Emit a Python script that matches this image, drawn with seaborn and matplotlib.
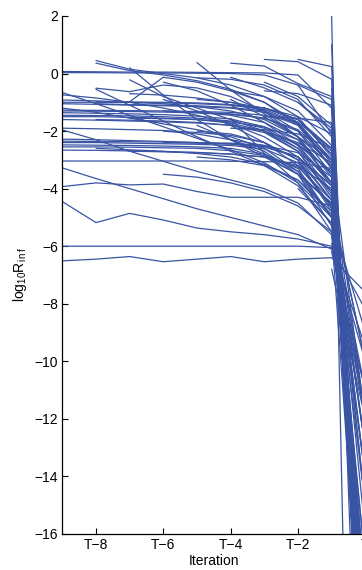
import matplotlib
matplotlib.use("Agg")
import numpy as np
import pandas as pd
import matplotlib.pyplot as plt
import seaborn as sns

# log10 R_inf per run, grouped by the iteration where the run's record starts.
# Every run ends at the final iteration T (x = 0).
from_t9 = [
    [0.07, 0.06, 0.05, 0.05, 0.04, 0.03, 0.02, -0.05, -1.2, -26],
    [0.03, 0.03, 0.02, 0.02, 0.01, 0.0, -0.05, -0.4, -2.1, -21],
    [-0.66, -1.05, -1.45, -1.85, -2.25, -2.65, -3.1, -3.8, -5.5, -22],
    [-0.74, -0.85, -1.0, -1.2, -1.45, -1.75, -2.2, -2.9, -4.4, -19],
    [-0.92, -0.95, -1.0, -1.05, -1.15, -1.3, -1.6, -2.2, -3.6, -23],
    [-1.0, -1.0, -1.0, -1.02, -1.05, -1.1, -1.25, -1.7, -3.3, -22],
    [-1.05, -1.07, -1.1, -1.12, -1.15, -1.2, -1.35, -1.8, -3.1, -24],
    [-1.2, -1.35, -1.55, -1.75, -1.95, -2.2, -2.6, -3.4, -5.0, -17],
    [-1.27, -1.28, -1.29, -1.3, -1.32, -1.35, -1.45, -1.7, -2.6, -22],
    [-1.3, -1.31, -1.32, -1.34, -1.37, -1.42, -1.55, -1.95, -3.0, -20],
    [-1.36, -1.38, -1.4, -1.43, -1.48, -1.58, -1.85, -2.5, -3.9, -21],
    [-1.45, -1.46, -1.47, -1.5, -1.55, -1.65, -1.9, -2.6, -4.1, -20],
    [-1.5, -1.5, -1.52, -1.55, -1.6, -1.72, -2.0, -2.7, -4.3, -16],
    [-1.6, -1.62, -1.65, -1.68, -1.72, -1.8, -2.0, -2.45, -3.4, -22],
    [-1.9, -1.92, -1.95, -1.98, -2.05, -2.15, -2.4, -3.0, -4.7, -14],
    [-1.96, -2.3, -2.7, -3.05, -3.4, -3.7, -4.0, -4.5, -5.6, -12],
    [-2.28, -2.3, -2.33, -2.36, -2.4, -2.45, -2.55, -2.9, -4.1, -23],
    [-2.35, -2.36, -2.37, -2.38, -2.4, -2.42, -2.5, -2.75, -3.6, -21],
    [-2.4, -2.4, -2.42, -2.44, -2.46, -2.5, -2.62, -3.1, -4.6, -19],
    [-2.48, -2.49, -2.5, -2.52, -2.55, -2.6, -2.8, -3.3, -5.0, -18],
    [-2.55, -2.55, -2.56, -2.58, -2.6, -2.68, -2.85, -3.5, -5.3, -17],
    [-2.66, -2.67, -2.69, -2.71, -2.74, -2.8, -2.9, -3.25, -4.4, -20],
    [-3.04, -3.04, -3.04, -3.04, -3.04, -3.05, -3.06, -3.1, -3.3, -24],
    [-3.28, -3.65, -4.0, -4.35, -4.7, -5.0, -5.3, -5.6, -6.1, -11],
    [-3.93, -3.8, -3.87, -3.84, -4.1, -4.3, -4.3, -4.3, -4.6, -10],
    [-4.45, -5.18, -4.86, -5.09, -5.37, -5.5, -5.6, -5.75, -6.0, -9.5],
    [-6.0, -6.0, -6.0, -6.0, -6.0, -6.0, -6.0, -6.0, -6.05, -8.2],
    [-6.51, -6.45, -6.36, -6.54, -6.45, -6.36, -6.54, -6.45, -6.4, -7.6],
]
from_t8 = [
    [0.45, 0.15, 0.0, -0.15, -0.4, -0.8, -1.5, -2.9, -24],
    [0.36, 0.1, -0.05, -0.25, -0.55, -1.0, -1.8, -3.3, -21],
    [-0.51, -0.63, -0.4, -0.5, -0.8, -1.3, -2.2, -3.8, -23],
    [-0.55, -1.1, -1.65, -2.2, -2.7, -3.2, -3.9, -5.2, -12],
    [-0.98, -0.99, -1.0, -1.02, -1.08, -1.2, -1.6, -2.8, -22],
    [-1.05, -1.08, -1.1, -1.12, -1.18, -1.3, -1.75, -3.0, -21],
    [-1.6, -1.62, -1.65, -1.7, -1.8, -2.05, -2.7, -4.2, -18],
    [-2.6, -2.65, -2.7, -2.78, -2.9, -3.15, -3.7, -4.9, -20],
]
from_t7 = [
    [0.2, -0.75, -1.6, -2.3, -2.9, -3.5, -4.5, -19],
    [-0.22, -0.8, -1.2, -1.6, -2.0, -2.6, -3.8, -22],
    [-0.98, -0.13, -0.3, -0.6, -1.0, -1.7, -3.0, -23],
    [-0.7, -0.75, -0.85, -1.0, -1.3, -2.0, -3.5, -18],
    [-1.55, -1.57, -1.6, -1.68, -1.85, -2.3, -3.5, -22],
    [-2.7, -2.72, -2.75, -2.8, -2.9, -3.2, -4.0, -12],
]
from_t6 = [
    [-0.3, -0.6, -1.1, -1.7, -2.5, -3.8, -21],
    [-1.3, -1.35, -1.45, -1.7, -2.3, -3.8, -22],
    [-2.0, -2.1, -2.3, -2.7, -3.5, -5.0, -13],
    [-0.9, -1.3, -1.8, -2.4, -3.2, -4.6, -19],
    [-2.4, -2.42, -2.45, -2.55, -2.9, -3.9, -21],
    [-3.5, -3.6, -3.8, -4.1, -4.6, -5.5, -15],
]
from_t5 = [
    [0.38, -0.57, -1.4, -2.2, -3.2, -21],
    [-0.9, -1.0, -1.2, -1.6, -2.6, -23],
    [-2.9, -3.0, -3.2, -3.7, -4.8, -14],
    [-1.35, -1.4, -1.55, -2.0, -3.2, -24],
    [-0.15, -0.2, -0.4, -0.9, -2.2, -22],
    [-2.0, -2.1, -2.4, -3.0, -4.4, -15],
    [-1.8, -2.3, -2.8, -3.4, -4.6, -12],
]
from_t4 = [
    [0.36, 0.26, -0.35, -0.8, -24],
    [-0.13, -0.5, -1.0, -1.9, -20],
    [-1.55, -2.77, -3.8, -5.0, -13],
    [-0.6, -0.8, -1.3, -2.5, -23],
    [-2.3, -2.5, -2.9, -3.9, -22],
    [-1.1, -1.2, -1.5, -2.1, -22],
    [-1.9, -1.95, -2.1, -2.6, -20],
    [-0.9, -1.5, -2.2, -3.0, -19],
]
from_t3 = [
    [0.49, 0.41, -0.2, -25],
    [-0.3, -0.8, -1.8, -22],
    [-1.2, -1.6, -2.8, -19],
    [-0.6, -0.7, -1.1, -23],
    [-2.0, -2.4, -3.1, -12],
    [-1.5, -1.55, -1.7, -24],
]
from_t2 = [
    [0.49, 0.24, -25],
    [-1.0, -2.0, -21],
    [-3.5, -4.5, -10],
    [-0.4, -0.9, -24],
    [-2.5, -3.4, -21],
    [-1.6, -2.7, -20],
    [-4.0, -5.2, -11],
    [-3.0, -4.8, -13],
]
from_t1 = [
    [2.0, -52],
    [1.0, -30],
    [-0.5, -25],
    [-5.5, -14],
    [-6.8, -12],
    [-3.0, -23],
    [-4.2, -15],
    [-5.9, -10],
    [-3.6, -19],
    [-5.0, -9],
    [-6.2, -11],
    [-4.5, -13],
]

X_TICKS = [-8, -6, -4, -2, 0]
X_LABELS = ["T\u22128", "T\u22126", "T\u22124", "T\u22122", "T"]
Y_TICKS = list(range(-16, 3, 2))
BLUE = "#3a54a4"

groups = {-9: from_t9, -8: from_t8, -7: from_t7, -6: from_t6, -5: from_t5,
          -4: from_t4, -3: from_t3, -2: from_t2, -1: from_t1}
rows = []
run = 0
for start, runs in groups.items():
    for vals in runs:
        assert start + len(vals) - 1 == 0, (start, vals)
        for k, v in enumerate(vals):
            rows.append((run, start + k, v))
        run += 1
df = pd.DataFrame(rows, columns=["run", "iteration", "log_res"])

sns.set_theme(style="ticks")
plt.rcParams["font.family"] = ["Liberation Sans", "DejaVu Sans"]
plt.rcParams["mathtext.fontset"] = "custom"
plt.rcParams["mathtext.rm"] = "Liberation Sans"
plt.rcParams["mathtext.it"] = "Liberation Sans:italic"

fig = plt.figure(figsize=(3.62, 5.70), dpi=100)
# axes run to x = T, a little past the right edge of the figure
ax = fig.add_axes([0.1721, 0.0632, 0.8370, 0.9088])
sns.lineplot(data=df, x="iteration", y="log_res", units="run", estimator=None,
             sort=False, color=BLUE, lw=0.9, legend=False, ax=ax)

ax.set_xlim(-9, 0)
ax.set_ylim(-16, 2)
ax.set_xticks(X_TICKS)
ax.set_xticklabels(X_LABELS)
ax.set_yticks(Y_TICKS)
ax.tick_params(direction="in", length=4, width=0.8, labelsize=10,
               colors="black", pad=3)
for s in ["top", "right"]:
    ax.spines[s].set_visible(False)
for s in ["left", "bottom"]:
    ax.spines[s].set_linewidth(0.9)
    ax.spines[s].set_color("black")
ax.set_xlabel("Iteration", fontsize=10, labelpad=1, color="black")
ax.set_ylabel(r"log$_{10}$R$_{\mathrm{i\,n\,f}}$", fontsize=10, labelpad=4,
              color="black")

fig.savefig("out.png", dpi=100)
